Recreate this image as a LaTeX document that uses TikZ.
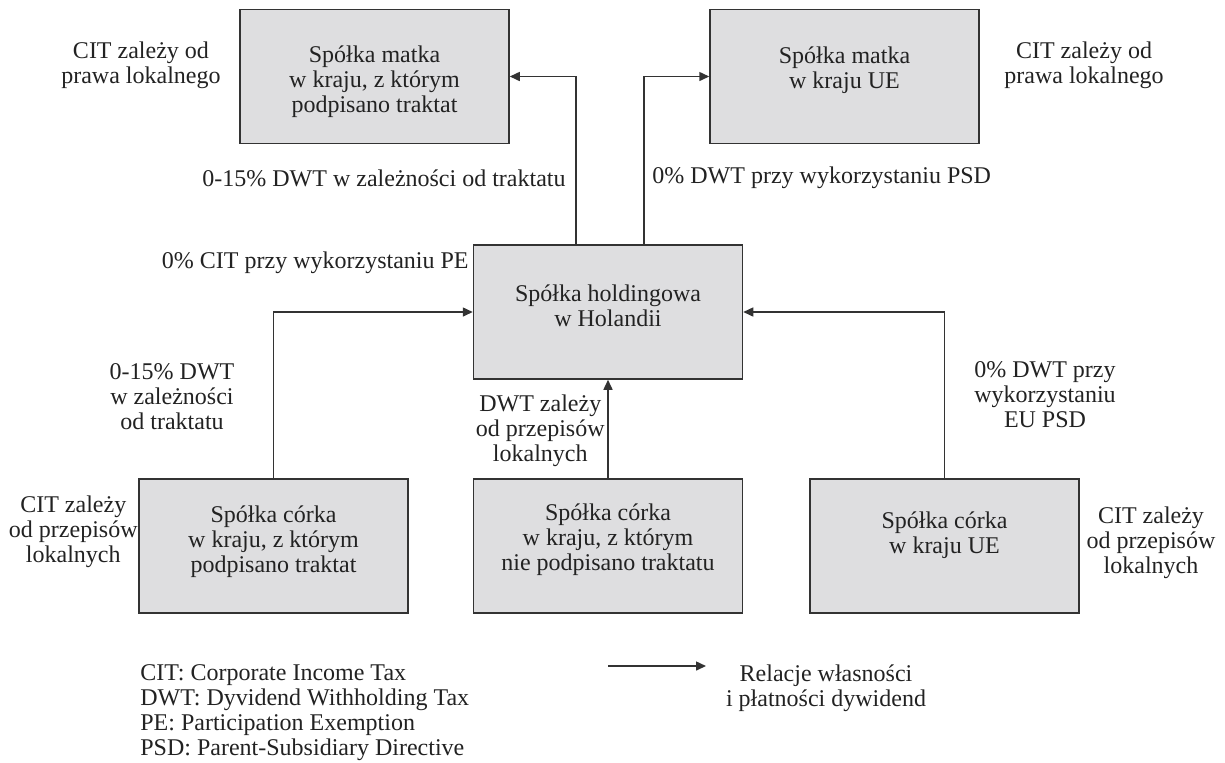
\documentclass[tikz,border=0pt]{standalone}
\usepackage{fontspec}
\setmainfont{Liberation Serif}
\usepackage{tikz}
\usetikzlibrary{arrows.meta}
\definecolor{boxgray}{RGB}{222,222,224}
\definecolor{linegray}{RGB}{51,51,51}
\definecolor{textgray}{RGB}{34,34,34}

\begin{document}
\begin{tikzpicture}[x=0.5pt,y=-0.5pt]
\tikzstyle{every node}+=[inner sep=0pt, align=center, text=textgray, font=\fontsize{12}{12.5}\selectfont]
\tikzstyle{firm}=[draw=linegray, line width=0.75pt, fill=boxgray, minimum width=134.5pt, minimum height=67pt]
\tikzstyle{flow}=[draw=linegray, line width=0.75pt, -{Triangle[length=5pt,width=4.5pt]}]
\useasboundingbox (0,0) rectangle (1225,762);
% spolki
\node [firm] (matkaT) at (374.5,76.5) {};
\node [firm] (matkaUE) at (844.5,76.5) {};
\node [firm] (hold) at (608,312) {};
\node [firm] (corkaT) at (273.5,546) {};
\node [firm] (corkaN) at (608,546) {};
\node [firm] (corkaUE) at (944.5,546) {};
\node (matkaTtxt) at ([yshift=-2.75pt]matkaT.center) {Spółka matka\\w kraju, z którym\\podpisano traktat};
\node (matkaUEtxt) at ([yshift=3.25pt]matkaUE.center) {Spółka matka\\w kraju UE};
\node (holdtxt) at ([yshift=3.25pt]hold.center) {Spółka holdingowa\\w Holandii};
\node (corkaTtxt) at ([yshift=2pt]corkaT.center) {Spółka córka\\w kraju, z którym\\podpisano traktat};
\node (corkaNtxt) at ([yshift=3pt]corkaN.center) {Spółka córka\\w kraju, z którym\\nie podpisano traktatu};
\node (corkaUEtxt) at ([yshift=5.5pt]corkaUE.center) {Spółka córka\\w kraju UE};
% przeplywy dywidend
\draw [flow] ([xshift=-16pt]hold.north) |- (matkaT.east);
\draw [flow] ([xshift=18pt]hold.north) |- (matkaUE.west);
\draw [flow] (corkaT.north) |- (hold.west);
\draw [flow] (corkaN.north) -- (hold.south);
\draw [flow] (corkaUE.north) |- (hold.east);
% opisy
\node [anchor=east] (citMT) at (221,65) {CIT zależy od\\prawa lokalnego};
\node [anchor=west] (citMUE) at (1004,65) {CIT zależy od\\prawa lokalnego};
\node [anchor=east] (dwtMT) at (566,178) {0-15\% DWT w zależności od traktatu};
\node [anchor=west] (dwtMUE) at (652,178) {0\% DWT przy wykorzystaniu PSD};
\node [anchor=east] (citHold) at (469,263) {0\% CIT przy wykorzystaniu PE};
\node (dwtCT) at (172,397) {0-15\% DWT\\w zależności\\od traktatu};
\node [anchor=east] (dwtCN) at (605,431) {DWT zależy\\od przepisów\\lokalnych};
\node (dwtCUE) at (1045,395) {0\% DWT przy\\wykorzystaniu\\EU PSD};
\node [anchor=east] (citCT) at (138,532) {CIT zależy\\od przepisów\\lokalnych};
\node (citCUE) at (1151,543) {CIT zależy\\od przepisów\\lokalnych};
% legenda
\node [anchor=west, align=left] (skroty) at (140,713) {CIT: Corporate Income Tax\\DWT: Dyvidend Withholding Tax\\PE: Participation Exemption\\PSD: Parent-Subsidiary Directive};
\coordinate (legA) at (608,666);
\coordinate (legB) at (706,666);
\draw [flow] (legA) -- (legB);
\node (relacje) at (826,688) {Relacje własności\\i płatności dywidend};
\end{tikzpicture}
\end{document}
